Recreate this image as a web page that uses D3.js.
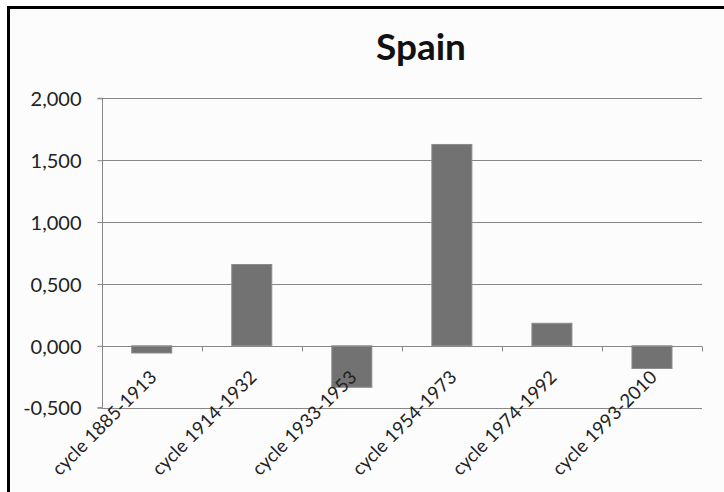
<!DOCTYPE html>
<html><head><meta charset="utf-8">
<script src="https://cdn.jsdelivr.net/npm/d3@7"></script>
<style>html,body{margin:0;padding:0;background:#fff;}svg{display:block;}</style>
</head><body>
<svg id="chart" width="724" height="492"></svg>
<script>
const title = "Spain";
const categories = ["cycle 1885-1913","cycle 1914-1932","cycle 1933-1953","cycle 1954-1973","cycle 1974-1992","cycle 1993-2010"];
const values = [-0.058, 0.657, -0.335, 1.627, 0.182, -0.183];
const yTicks = [-0.5, 0, 0.5, 1.0, 1.5, 2.0];

const svg = d3.select("#chart");
// frame
svg.append("rect").attr("x", 8.5).attr("y", 7.5).attr("width", 730).attr("height", 500)
  .attr("fill", "#fcfcfc").attr("stroke", "#000").attr("stroke-width", 3);

const pLeft = 101.7, pRight = 702, pTop = 98.3, pBottom = 407.7;
const x = d3.scaleBand().domain(categories).range([pLeft, pRight]).paddingInner(0.6).paddingOuter(0.3);
const xb = d3.scaleBand().domain(categories).range([pLeft, pRight]);
const y = d3.scaleLinear().domain([-0.5, 2]).range([pBottom, pTop]);
const locale = d3.formatLocale({decimal: ",", thousands: ".", grouping: [3], currency: ["", ""], minus: "-"});
const fmt = locale.format(".3f");

// gridlines
svg.append("g").selectAll("line").data(yTicks).join("line")
  .attr("x1", pLeft).attr("x2", pRight)
  .attr("y1", d => Math.round(y(d)) + 0.5).attr("y2", d => Math.round(y(d)) + 0.5)
  .attr("stroke", "#878787").attr("stroke-width", 1);

// y axis
const yAxis = svg.append("g").attr("transform", `translate(${Math.round(pLeft)+0.5},0)`)
  .call(d3.axisLeft(y).tickValues(yTicks).tickFormat(fmt).tickSize(5).tickPadding(16));
yAxis.select(".domain").attr("stroke", "#878787").attr("d", `M-5,${y(2)}H0V${y(-0.5)}H-5`);
yAxis.selectAll(".tick line").attr("stroke", "#878787");
yAxis.selectAll(".tick text").attr("font-family", "Lato").attr("font-size", 20).attr("fill", "#222")
  .attr("dy", "0.36em");

// bars
svg.append("g").selectAll("rect").data(values).join("rect")
  .attr("x", (d, i) => x(categories[i]))
  .attr("width", x.bandwidth())
  .attr("y", d => y(Math.max(0, d)))
  .attr("height", d => Math.abs(y(d) - y(0)))
  .attr("fill", "#727272").attr("stroke", "#8c8c8c").attr("stroke-width", 1);

// x axis line at zero with ticks at band boundaries
const z = Math.round(y(0)) + 0.5;
svg.append("line").attr("x1", pLeft).attr("x2", pRight).attr("y1", z).attr("y2", z)
  .attr("stroke", "#878787");
const bounds = categories.map(c => xb(c)).concat([pRight]);
svg.append("g").selectAll("line").data(bounds).join("line")
  .attr("x1", d => Math.round(d) + 0.5).attr("x2", d => Math.round(d) + 0.5)
  .attr("y1", z).attr("y2", z + 5).attr("stroke", "#878787");

// x labels
svg.append("g").selectAll("text").data(categories).join("text")
  .attr("transform", d => `translate(${xb(d) + xb.bandwidth()/2 + 6},${z + 32}) rotate(-45)`)
  .attr("text-anchor", "end")
  .attr("font-family", "Lato").attr("font-size", 18.5).attr("fill", "#222")
  .text(d => d);

// title
svg.append("text").attr("x", 421).attr("y", 60).attr("text-anchor", "middle")
  .attr("font-family", "Lato").attr("font-weight", "bold").attr("font-size", 37).attr("fill", "#111")
  .text(title);
</script>
</body></html>
